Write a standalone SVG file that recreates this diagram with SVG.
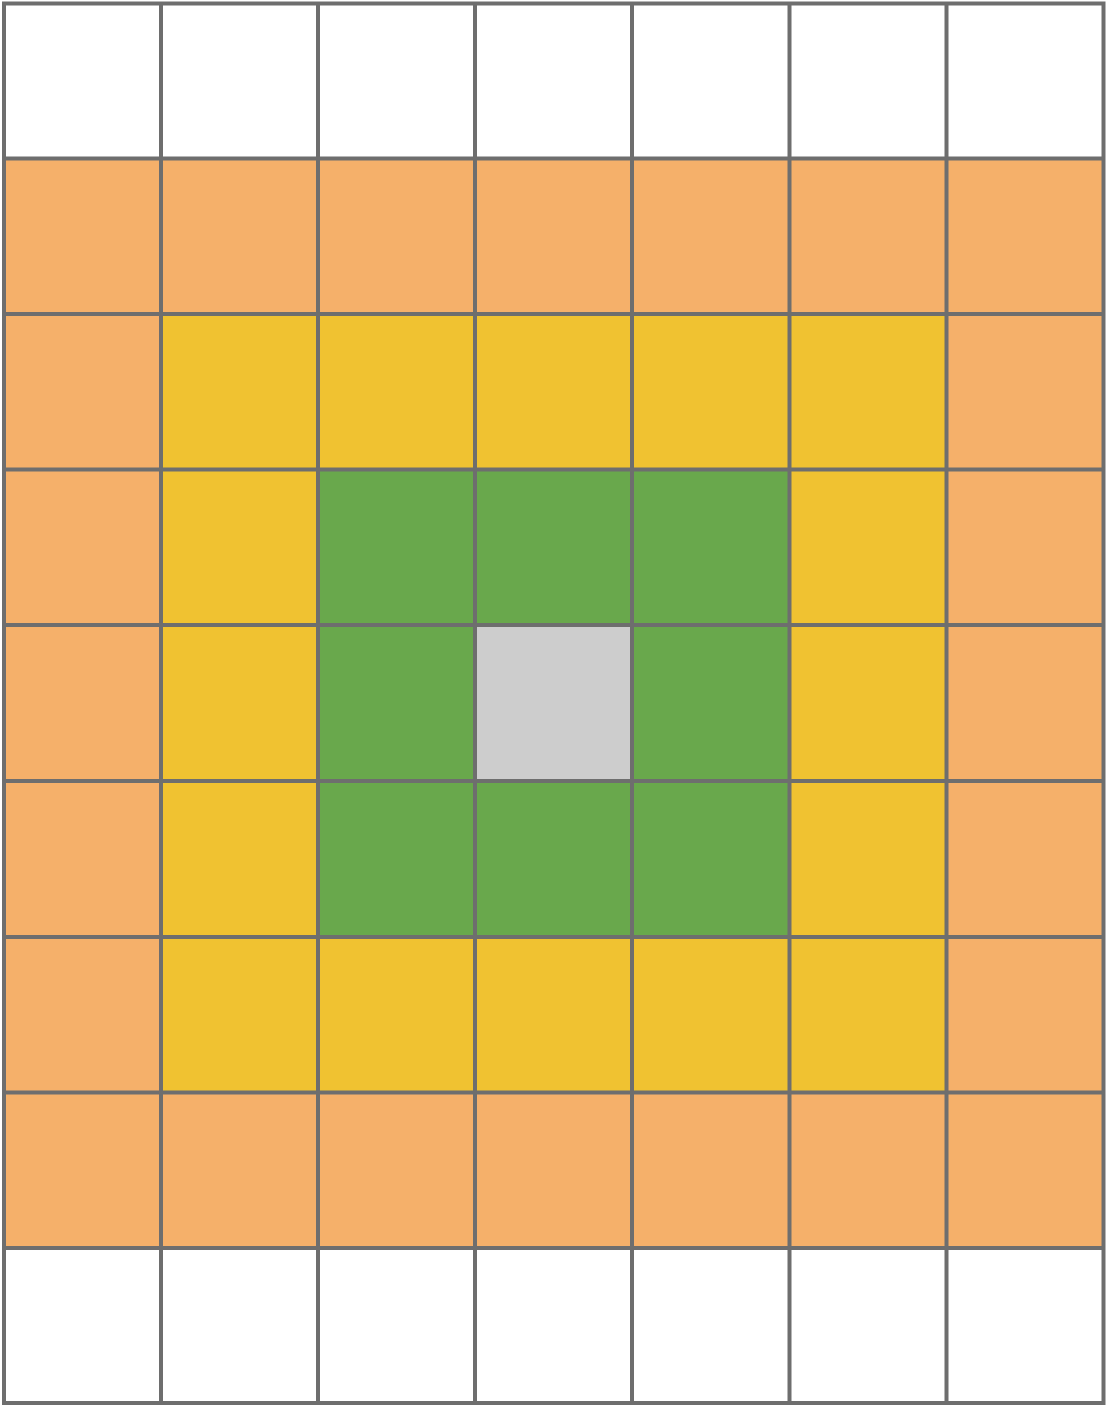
<svg xmlns="http://www.w3.org/2000/svg" width="1108" height="1406" viewBox="0 0 1108 1406">
<style>
.o{fill:#f5b06a}.y{fill:#f0c231}.g{fill:#69a84c}.c{fill:#cdcdcd}
.l{stroke:#6e6e6e;stroke-width:4;fill:none}
</style>
<rect width="1108" height="1406" fill="#ffffff"/>
<g id="fills">
<rect class="o" x="4" y="158.5" width="1099.5" height="1089.5"/>
<rect class="y" x="161" y="314" width="785.5" height="778.5"/>
<rect class="g" x="318" y="469.5" width="471.5" height="467.5"/>
<rect class="c" x="475" y="625" width="157" height="156"/>
</g>
<g id="grid" class="l">
<rect x="4" y="3.5" width="1099.5" height="1399.5"/>
<path d="M161 3.5V1403M318 3.5V1403M475 3.5V1403M632 3.5V1403M789.5 3.5V1403M946.5 3.5V1403"/>
<path d="M4 158.5H1103.5M4 314H1103.5M4 469.5H1103.5M4 625H1103.5M4 781H1103.5M4 937H1103.5M4 1092.5H1103.5M4 1248H1103.5"/>
</g>
</svg>
